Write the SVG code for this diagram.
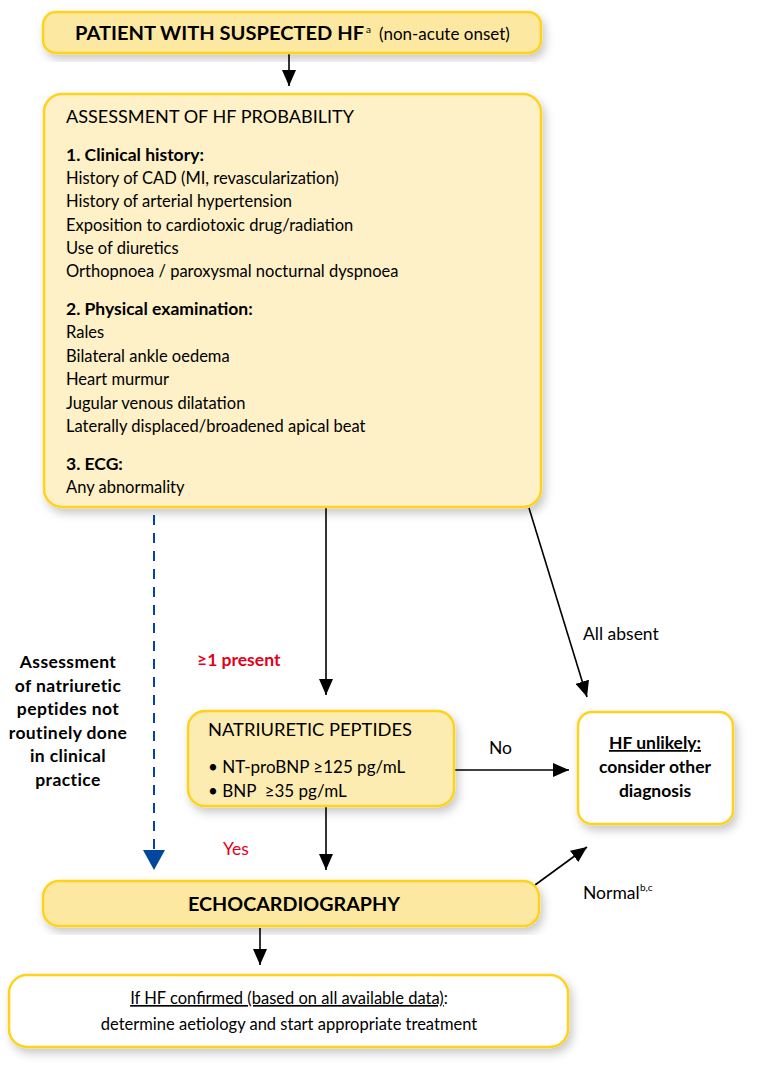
<svg xmlns="http://www.w3.org/2000/svg" width="768" height="1085" viewBox="0 0 768 1085">
<defs>
<filter id="sh" x="-10%" y="-10%" width="125%" height="130%">
<feDropShadow dx="3" dy="5" stdDeviation="5" flood-color="#000" flood-opacity="0.22"/>
</filter>
<marker id="ah" viewBox="0 0 16 14" refX="16" refY="7" markerWidth="16" markerHeight="14" markerUnits="userSpaceOnUse" orient="auto">
<path d="M0,0 L16,7 L0,14 Z" fill="#000"/>
</marker>
<marker id="ahb" viewBox="0 0 20 22" refX="20" refY="11" markerWidth="20" markerHeight="22" markerUnits="userSpaceOnUse" orient="auto">
<path d="M0,0 L20,11 L0,22 Z" fill="#00479D"/>
</marker>
</defs>
<style>
text{font-family:"Lato","Open Sans","DejaVu Sans",sans-serif;font-size:16.5px;fill:#000}
.b{font-weight:bold;font-size:17.5px}
.c{text-anchor:middle}
.lb{font-size:17.5px}
.ls{letter-spacing:0.4px}
.sup{font-size:10px}
.f17{font-size:17px}
.f18{font-size:18px}
.red{fill:#E2001A}
.box{stroke:#FFD21F;stroke-width:2.5}
.dark{fill:#FDE8A2}
.light{fill:#FEF0C7}
.white{fill:#FFFFFF}
.ln{stroke:#000;stroke-width:1.6;fill:none}
</style>
<rect width="768" height="1085" fill="#FFFFFF"/>

<g id="connectors">
<line class="ln" x1="289" y1="54" x2="289" y2="86" marker-end="url(#ah)"/>
<line x1="154" y1="515" x2="154" y2="870" stroke="#00479D" stroke-width="2" stroke-dasharray="10,8" marker-end="url(#ahb)"/>
<line class="ln" x1="326" y1="508" x2="326" y2="695" marker-end="url(#ah)"/>
<line class="ln" x1="529" y1="508" x2="587" y2="697" marker-end="url(#ah)"/>
<line class="ln" x1="455" y1="770" x2="569" y2="770" marker-end="url(#ah)"/>
<line class="ln" x1="326" y1="807" x2="326" y2="870" marker-end="url(#ah)"/>
<line class="ln" x1="535" y1="885" x2="587" y2="847" marker-end="url(#ah)"/>
<line class="ln" x1="260" y1="928" x2="260" y2="965" marker-end="url(#ah)"/>
<text class="lb" x="583" y="640">All absent</text>
<text class="b red" x="197" y="666">≥1 present</text>
<text class="lb" x="489" y="754">No</text>
<text class="red lb" x="223" y="855">Yes</text>
<text class="lb" x="583" y="899">Normal</text>
<text class="sup" x="640" y="891">b,c</text>
<text class="b c ls" x="68" y="668">Assessment</text>
<text class="b c ls" x="68" y="692">of natriuretic</text>
<text class="b c ls" x="68" y="715">peptides not</text>
<text class="b c ls" x="68" y="739">routinely done</text>
<text class="b c ls" x="68" y="762">in clinical</text>
<text class="b c ls" x="68" y="786">practice</text>
</g>

<g id="patient">
<rect class="box dark" x="43" y="12" width="498" height="41" rx="13" filter="url(#sh)"/>
<text x="75" y="40" class="b f18" textLength="289" lengthAdjust="spacingAndGlyphs">PATIENT WITH SUSPECTED HF</text>
<text x="366" y="33" class="sup">a</text>
<text x="379" y="40" class="f17">(non-acute onset)</text>
</g>

<g id="assessment">
<rect class="box light" x="44" y="94" width="497" height="413" rx="18" filter="url(#sh)"/>
<text x="66" y="123" textLength="288" lengthAdjust="spacingAndGlyphs">ASSESSMENT OF HF PROBABILITY</text>
<text x="66" y="161" class="b">1. Clinical history:</text>
<text x="66" y="184">History of CAD (MI, revascularization)</text>
<text x="66" y="207">History of arterial hypertension</text>
<text x="66" y="231">Exposition to cardiotoxic drug/radiation</text>
<text x="66" y="254">Use of diuretics</text>
<text x="66" y="277">Orthopnoea / paroxysmal nocturnal dyspnoea</text>
<text x="66" y="315" class="b">2. Physical examination:</text>
<text x="66" y="338">Rales</text>
<text x="66" y="362">Bilateral ankle oedema</text>
<text x="66" y="385">Heart murmur</text>
<text x="66" y="409">Jugular venous dilatation</text>
<text x="66" y="432">Laterally displaced/broadened apical beat</text>
<text x="66" y="470" class="b">3. ECG:</text>
<text x="66" y="493">Any abnormality</text>
</g>

<g id="natriuretic">
<rect class="box" fill="#FDECB2" x="188" y="711" width="266" height="95" rx="17" filter="url(#sh)"/>
<text x="208" y="736" textLength="204" lengthAdjust="spacingAndGlyphs">NATRIURETIC PEPTIDES</text>
<text x="208" y="773" class="f17">• NT-proBNP ≥125 pg/mL</text>
<text x="208" y="797" class="f17" xml:space="preserve">• BNP  ≥35 pg/mL</text>
</g>

<g id="unlikely">
<rect class="box white" x="578" y="712" width="155" height="112" rx="14" filter="url(#sh)"/>
<text class="b c" x="655" y="749" text-decoration="underline">HF unlikely:</text>
<text class="b c" x="655" y="773">consider other</text>
<text class="b c" x="655" y="797">diagnosis</text>
</g>

<g id="echo">
<rect class="box dark" x="43" y="881" width="496" height="45" rx="16" filter="url(#sh)"/>
<text class="b f18" x="188" y="911" textLength="212" lengthAdjust="spacingAndGlyphs">ECHOCARDIOGRAPHY</text>
</g>

<g id="confirmed">
<rect class="box white" x="9" y="975" width="559" height="72" rx="18" filter="url(#sh)"/>
<text class="c" x="289" y="1004"><tspan text-decoration="underline">If HF confirmed (based on all available data)</tspan>:</text>
<text class="c" x="289" y="1030">determine aetiology and start appropriate treatment</text>
</g>
</svg>
